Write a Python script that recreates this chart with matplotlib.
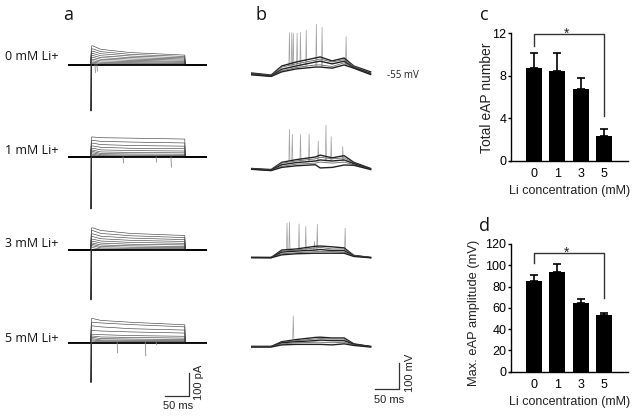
import matplotlib
matplotlib.use('Agg')
import matplotlib.pyplot as plt

W, H = 635, 417

conc_labels = ['0', '1', '3', '5']
eap_number = [8.7, 8.4, 6.7, 2.3]
eap_number_top = [10.1, 10.1, 7.8, 3.0]
eap_amp = [85, 94, 65, 53]
eap_amp_top = [90.5, 101.5, 68.5, 55]

# clamp currents, pA, at these times (ms)
t_clamp = [-47, -1, 1, 4, 20, 80, 190, 191, 235]
currents_0 = [
    [83, 68, 54, 43], [70, 58, 46, 37], [60, 49, 39, 31], [50, 40, 32, 26], [41, 32, 26, 21],
    [33, 25, 20, 16], [25, 18, 15, 12], [18, 12, 10, 8], [12, 7, 6, 5], [7, 3, 3, 2],
]
currents_1 = [
    [87, 84, 82, 78], [72, 68, 65, 61], [60, 54, 50, 47], [48, 42, 38, 36], [38, 31, 28, 26],
    [30, 22, 20, 18], [24, 15, 13, 12], [18, 10, 8, 7], [12, 6, 4, 4], [7, 3, 2, 2],
]
currents_3 = [
    [96, 85, 72, 63], [84, 72, 62, 54], [70, 60, 52, 45], [58, 49, 42, 37], [47, 39, 33, 29],
    [38, 30, 25, 22], [30, 22, 18, 15], [24, 15, 12, 10], [18, 9, 7, 6], [10, 4, 3, 3],
]
currents_5 = [
    [104, 96, 88, 77], [88, 85, 78, 68], [72, 68, 60, 54], [52, 50, 46, 41], [36, 34, 30, 27],
    [28, 24, 22, 19], [22, 17, 15, 13], [16, 11, 10, 9], [11, 7, 6, 5], [6, 3, 3, 2],
]
transient_depth = [200, 226, 217, 174]
events_t = [[8, 12], [65, 132, 162], [], [53, 110, 132]]
events_depth = [[32, 26], [26, 22, 44], [], [45, 58, 10]]

# membrane voltage, mV above rest, at these times (ms)
t_volt = [-44, -2, 20, 50, 90, 100, 125, 150, 170, 205]
volts_0 = [
    [4, -4, 30, 45, 60, 64, 49, 60, 30, 8], [2, -6, 26, 38, 52, 56, 45, 54, 28, 4],
    [0, -8, 18, 30, 45, 48, 38, 48, 24, 2], [-2, -8, 12, 24, 34, 34, 28, 42, 22, 0],
    [-3, -9, 8, 19, 26, 26, 22, 34, 22, -2],
]
volts_1 = [
    [2, -2, 25, 35, 45, 52, 42, 50, 25, 2], [1, -3, 22, 30, 38, 44, 38, 42, 22, 1],
    [0, -4, 16, 24, 30, 34, 30, 34, 20, 0], [0, -5, 10, 18, 22, 26, 22, 26, 16, -1],
    [-1, -6, 6, 12, 16, 4, 6, 15, 14, -2],
]
volts_3 = [
    [0, 0, 28, 32, 42, 43, 40, 36, 8, 0], [0, 0, 24, 28, 36, 38, 32, 32, 8, 0],
    [0, 0, 20, 24, 28, 30, 26, 26, 6, 0], [0, 0, 14, 18, 22, 22, 22, 20, 6, 0],
    [0, -1, 10, 14, 16, 16, 16, 16, 4, -1],
]
volts_5 = [
    [0, 0, 18, 26, 34, 35, 32, 32, 10, 0], [0, 0, 16, 22, 28, 30, 28, 28, 8, 0],
    [0, 0, 14, 18, 22, 24, 22, 22, 8, 0], [-1, -1, 10, 14, 16, 16, 14, 16, 6, -1],
    [-2, -2, 6, 8, 8, 8, 6, 10, 4, -2],
]
spikes_t = [
    [36, 41, 44, 52, 59, 71, 92, 104, 154],
    [36, 42, 59, 77, 96, 112, 123, 147],
    [31, 36, 56, 70, 88, 94, 152],
    [44],
]
spikes_top = [
    [155, 155, 153, 153, 156, 165, 192, 175, 140],
    [149, 130, 130, 131, 105, 164, 121, 84],
    [129, 133, 126, 116, 60, 125, 110],
    [115],
]

fig = plt.figure(figsize=(W / 100, H / 100), dpi=100)
LABEL_FONT = 'Open Sans'
PLOT_FONT = 'Liberation Sans'


def px_axes(x0, y0, x1, y1):
    ax = fig.add_axes([x0 / W, 1 - y1 / H, (x1 - x0) / W, (y1 - y0) / H])
    return ax


def clamp_panel(y_base, currents, depth, ev_t, ev_d):
    ax = px_axes(68, y_base - 30, 207, y_base + 60)
    ax.set_xlim(-46.6, 235)
    ax.set_ylim(-60 / 0.23, 30 / 0.23)
    ax.axis('off')
    for c in currents:
        y = [0, 0, c[0], c[0], c[1], c[2], c[3], 0, 0]
        ax.plot(t_clamp, y, color='#444444', lw=0.45)
    ax.plot([-47, 235], [0, 0], color='black', lw=1.3)
    ax.plot([0, 0, 1], [0, -depth, 0], color='#333333', lw=0.7)
    for t, d in zip(ev_t, ev_d):
        ax.plot([t, t + 1], [0, -d], color='#888888', lw=0.6)


def volt_panel(y_base, volts, sp_t, sp_top):
    ax = px_axes(251, y_base - 50, 373, y_base + 20)
    ax.set_xlim(-44, 210)
    ax.set_ylim(-20 * 3.75, 50 * 3.75)
    ax.axis('off')
    for t, top in zip(sp_t, sp_top):
        ax.plot([t - 1.2, t, t + 1.2], [30, top, 30], color='#a0a0a0', lw=0.5)
    for i, v in enumerate(volts):
        ax.plot(t_volt, v, color='#222222' if i % 2 == 0 else '#666666', lw=1.0 if i % 2 == 0 else 0.6)


def bar_panel(y_top, y_zero, vals, tops, ymax, yticks, ylabel, br, ylabel_x, ylabel_y, ylabel_size):
    ax = px_axes(510.5, y_top, 628, y_zero)
    x = range(len(vals))
    ax.bar(x, vals, width=0.67, color='black')
    for i in x:
        ax.errorbar(i, vals[i], yerr=[[0], [tops[i] - vals[i]]], color='black',
                    elinewidth=1.2, capsize=3, capthick=1.2)
    ax.set_xlim(-1, 4.02)
    ax.set_ylim(0, ymax)
    ax.set_yticks(yticks)
    ax.set_xticks(list(x))
    ax.set_xticklabels(conc_labels)
    ax.tick_params(axis='x', length=0, pad=5, labelsize=9)
    ax.tick_params(axis='y', length=2.5, width=1, pad=0.5, labelsize=9)
    for s in ['top', 'right']:
        ax.spines[s].set_visible(False)
    for s in ['left', 'bottom']:
        ax.spines[s].set_linewidth(1.0)
    for t in ax.get_xticklabels() + ax.get_yticklabels():
        t.set_fontfamily(PLOT_FONT)
    ax.set_xlabel('Li concentration (mM)', family=PLOT_FONT, fontsize=9, labelpad=4, color='#222222')
    ax.text(ylabel_x, ylabel_y, ylabel, transform=ax.transAxes, rotation=90, ha='center', va='center',
            family=PLOT_FONT, fontsize=ylabel_size, color='#222222')
    ax.plot([0, 0, 3, 3], [br[0], br[1], br[1], br[2]], color='#333333', lw=1.0, clip_on=False)
    ax.text(1.4, br[1] * 1.0, '*', ha='center', va='center', family=PLOT_FONT, fontsize=10, color='#222222')


# voltage clamp traces
clamp_panel(65, currents_0, transient_depth[0], events_t[0], events_depth[0])
clamp_panel(157, currents_1, transient_depth[1], events_t[1], events_depth[1])
clamp_panel(250, currents_3, transient_depth[2], events_t[2], events_depth[2])
clamp_panel(342.5, currents_5, transient_depth[3], events_t[3], events_depth[3])

# current clamp traces
volt_panel(74, volts_0, spikes_t[0], spikes_top[0])
volt_panel(169, volts_1, spikes_t[1], spikes_top[1])
volt_panel(257.5, volts_3, spikes_t[2], spikes_top[2])
volt_panel(346.5, volts_5, spikes_t[3], spikes_top[3])

# summary bars
bar_panel(33, 160.7, eap_number, eap_number_top, 12, [0, 4, 8, 12], 'Total eAP number',
          (10.75, 11.9, 4.2), -0.2, 0.49, 10)
bar_panel(244, 371.7, eap_amp, eap_amp_top, 120, [0, 20, 40, 60, 80, 100, 120], 'Max. eAP amplitude (mV)',
          (102, 111.8, 69), -0.31, 0.46, 9.3)

# text and scale bars on one overlay
ov = fig.add_axes([0, 0, 1, 1])
ov.set_xlim(0, W)
ov.set_ylim(H, 0)
ov.axis('off')
ov.patch.set_alpha(0)
for s, y in zip(['0 mM Li+', '1 mM Li+', '3 mM Li+', '5 mM Li+'], [56, 150, 243, 338]):
    ov.text(5, y, s, family=LABEL_FONT, fontsize=9, va='center', color='#111111')
for s, x, y in [('a', 68, 15), ('b', 261, 15), ('c', 484, 15), ('d', 484, 226)]:
    ov.text(x, y, s, family=LABEL_FONT, fontsize=13, ha='center', va='center', color='#111111')
ov.text(387, 75.5, '-55 mV', family=LABEL_FONT, fontsize=7, va='center', color='#222222')

ov.plot([164.5, 189, 189], [395.5, 395.5, 373], color='#333333', lw=0.9)
ov.text(178, 406, '50 ms', family=PLOT_FONT, fontsize=8, ha='center', va='center', color='#222222')
ov.text(199, 382, '100 pA', family=PLOT_FONT, fontsize=8, rotation=90, ha='center', va='center', color='#222222')
ov.plot([375, 399, 399], [389, 389, 362.5], color='#333333', lw=0.9)
ov.text(389, 400, '50 ms', family=PLOT_FONT, fontsize=8, ha='center', va='center', color='#222222')
ov.text(410, 373, '100 mV', family=PLOT_FONT, fontsize=8, rotation=90, ha='center', va='center', color='#222222')

fig.savefig('out.png', dpi=100)
